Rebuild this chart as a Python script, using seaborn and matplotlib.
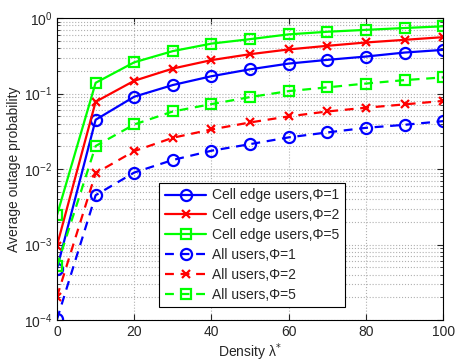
import numpy as np
import pandas as pd
import matplotlib
matplotlib.use("Agg")
import matplotlib.pyplot as plt
import seaborn as sns
from matplotlib.ticker import LogLocator, NullFormatter, FixedLocator

density = [0, 10, 20, 30, 40, 50, 60, 70, 80, 90, 100]

edge_phi1 = [4.8e-4, 0.045, 0.091, 0.13, 0.17, 0.21, 0.25, 0.28, 0.31, 0.35, 0.38]
edge_phi2 = [9.7e-4, 0.078, 0.148, 0.215, 0.278, 0.333, 0.385, 0.43, 0.476, 0.516, 0.56]
edge_phi5 = [2.46e-3, 0.139, 0.26, 0.366, 0.46, 0.527, 0.61, 0.66, 0.70, 0.74, 0.78]
all_phi1 = [1.02e-4, 4.5e-3, 9.0e-3, 0.0132, 0.0175, 0.0214, 0.0263, 0.0306, 0.0352, 0.0386, 0.0432]
all_phi2 = [2.04e-4, 8.8e-3, 0.0173, 0.026, 0.0335, 0.0415, 0.0499, 0.058, 0.065, 0.072, 0.080]
all_phi5 = [5.2e-4, 0.0202, 0.039, 0.058, 0.0726, 0.09, 0.108, 0.121, 0.136, 0.151, 0.164]

labels = ["Cell edge users,\u03a6=1", "Cell edge users,\u03a6=2", "Cell edge users,\u03a6=5",
          "All users,\u03a6=1", "All users,\u03a6=2", "All users,\u03a6=5"]
series = [edge_phi1, edge_phi2, edge_phi5, all_phi1, all_phi2, all_phi5]
colors = ["#0000ff", "#ff0000", "#00ff00", "#0000ff", "#ff0000", "#00ff00"]
markers = ["o", "x", "s", "o", "x", "s"]
solid = [True, True, True, False, False, False]

sns.set_style("ticks")
plt.rcParams['font.family'] = ['Liberation Sans', 'DejaVu Sans']

fig = plt.figure(figsize=(4.56, 3.63), dpi=100)
ax = fig.add_axes([0.125, 0.1185, 0.847, 0.8315])

for lab, vals, c, m, s in zip(labels, series, colors, markers, solid):
    df = pd.DataFrame({"x": density, "y": vals})
    msize = {"o": 8, "x": 6, "s": 7.5}[m]
    sns.lineplot(data=df, x="x", y="y", ax=ax, color=c, marker=m,
                 markersize=msize, markerfacecolor="none",
                 markeredgecolor=c, markeredgewidth=1.6,
                 linewidth=1.6, label=lab)
    ln = ax.lines[-1]
    if not s:
        ln.set_linestyle((0, (4, 3)))

ax.set_yscale("log")
ax.set_xlim(0, 100)
ax.set_ylim(1e-4, 1)
ax.xaxis.set_major_locator(FixedLocator([0, 20, 40, 60, 80, 100]))
ax.yaxis.set_major_locator(LogLocator(base=10, numticks=10))
ax.yaxis.set_minor_locator(LogLocator(base=10, subs=np.arange(2, 10), numticks=20))
ax.yaxis.set_minor_formatter(NullFormatter())

ax.grid(True, which="major", linestyle=":", color="#b0b0b0", linewidth=0.8)
ax.grid(True, which="minor", axis="y", linestyle=":", color="#b0b0b0", linewidth=0.8)

ax.tick_params(which="both", direction="in", top=True, right=True, labelsize=10)
ax.tick_params(which="major", length=4)
ax.tick_params(which="minor", length=2)
for sp in ax.spines.values():
    sp.set_linewidth(0.8)
    sp.set_color("black")

ax.set_xlabel("Density \u03bb$^{*}$", fontsize=10, labelpad=2)
ax.set_ylabel("Average outage probability", fontsize=10, labelpad=2)

leg = ax.legend(loc="lower left", bbox_to_anchor=(0.349, 0.154),
                bbox_transform=fig.transFigure, fontsize=10, frameon=True,
                fancybox=False, edgecolor="black", framealpha=1,
                handlelength=3.0, borderpad=0.4, labelspacing=0.42,
                handletextpad=0.4, borderaxespad=0)
leg.get_frame().set_linewidth(0.8)

fig.savefig("out.png", dpi=100)
